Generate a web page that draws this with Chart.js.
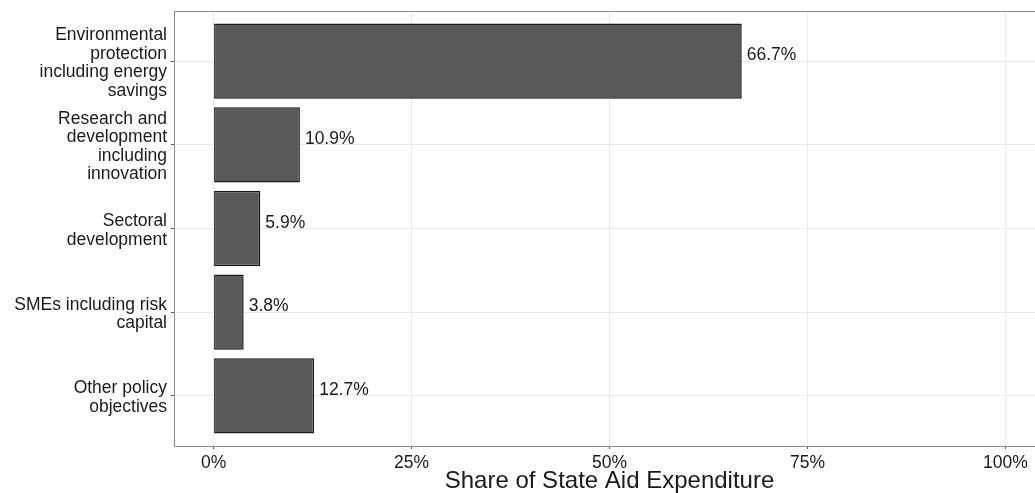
<!DOCTYPE html>
<html>
<head>
<meta charset="utf-8">
<script src="https://cdn.jsdelivr.net/npm/chart.js@4.4.1/dist/chart.umd.min.js"></script>
<style>
  html, body { margin: 0; padding: 0; background: #fff; overflow: hidden; }
  #wrap { width: 1035px; height: 493px; overflow: hidden; position: relative; }
  #box { width: 1050px; height: 493px; position: absolute; left: 0; top: 0; }
</style>
</head>
<body>
<div id="wrap"><div id="box"><canvas id="aidChart"></canvas></div></div>
<script>
// categories (top to bottom), one array of lines per label
const categories = [
  ['Environmental', 'protection', 'including energy', 'savings'],
  ['Research and', 'development', 'including', 'innovation'],
  ['Sectoral', 'development'],
  ['SMEs including risk', 'capital'],
  ['Other policy', 'objectives']
];
const shares = [66.7, 10.9, 5.9, 3.8, 12.7];
const xTicks = [0, 25, 50, 75, 100];
const xTitle = 'Share of State Aid Expenditure';

const FONT = '"Liberation Sans", Arial, Helvetica, sans-serif';
const TEXT = '#1a1a1a';
const SIZE = 17.5;

// value labels at the end of each bar
const valueLabels = {
  id: 'valueLabels',
  afterDatasetsDraw(chart) {
    const ctx = chart.ctx;
    const meta = chart.getDatasetMeta(0);
    ctx.save();
    ctx.font = SIZE + 'px ' + FONT;
    ctx.fillStyle = TEXT;
    ctx.textAlign = 'left';
    ctx.textBaseline = 'alphabetic';
    meta.data.forEach((bar, i) => {
      const x = chart.scales.x.getPixelForValue(shares[i]);
      ctx.fillText(shares[i].toFixed(1) + '%', x + 5, bar.y - 1);
    });
    ctx.restore();
  }
};

// top panel border (left and bottom come from the axes)
const panelBorder = {
  id: 'panelBorder',
  afterDraw(chart) {
    const a = chart.chartArea;
    const ctx = chart.ctx;
    ctx.save();
    ctx.strokeStyle = '#8a8a8a';
    ctx.lineWidth = 1;
    ctx.beginPath();
    ctx.moveTo(a.left, a.top + 0.5);
    ctx.lineTo(a.right, a.top + 0.5);
    ctx.stroke();
    ctx.restore();
  }
};

new Chart(document.getElementById('aidChart'), {
  type: 'bar',
  data: {
    datasets: [{
      data: shares.map((v, i) => ({ x: v, y: i + 1 })),
      backgroundColor: '#595959',
      borderColor: '#1a1a1a',
      borderWidth: 1.5,
      borderSkipped: false,
      barPercentage: 0.9,
      categoryPercentage: 1
    }]
  },
  options: {
    indexAxis: 'y',
    responsive: true,
    maintainAspectRatio: false,
    animation: false,
    layout: { padding: { top: 11, right: 5, left: 0, bottom: 0 } },
    plugins: {
      legend: { display: false },
      tooltip: { enabled: false }
    },
    scales: {
      x: {
        type: 'linear',
        min: -5,
        max: 105,
        afterBuildTicks: (scale) => { scale.ticks = xTicks.map(v => ({ value: v })); },
        afterFit: (scale) => { scale.height = 47; scale.paddingLeft = 0; scale.paddingRight = 0; },
        grid: { color: '#ebebeb', lineWidth: 1, tickLength: 3, tickColor: '#555' },
        border: { color: '#8a8a8a', width: 1 },
        ticks: {
          color: TEXT,
          font: { family: FONT, size: SIZE, lineHeight: 1 },
          padding: 5,
          maxRotation: 0,
          callback: (v) => v + '%'
        },
        title: {
          display: true,
          text: xTitle,
          color: TEXT,
          font: { family: FONT, size: 24, lineHeight: 1 },
          padding: { top: 0, bottom: 0 }
        }
      },
      y: {
        type: 'linear',
        reverse: true,
        offset: false,
        min: 0.4,
        max: 5.6,
        afterBuildTicks: (scale) => { scale.ticks = categories.map((c, i) => ({ value: i + 1 })); },
        afterFit: (scale) => { scale.width = 174; scale.paddingTop = 0; scale.paddingBottom = 0; },
        grid: { offset: false, color: '#ebebeb', lineWidth: 1, tickLength: 3, tickColor: '#555' },
        border: { color: '#8a8a8a', width: 1 },
        ticks: {
          color: TEXT,
          font: { family: FONT, size: SIZE, lineHeight: 1.06 },
          padding: 4,
          labelOffset: 2,
          autoSkip: false,
          callback: (v) => categories[v - 1]
        }
      }
    }
  },
  plugins: [valueLabels, panelBorder]
});
</script>
</body>
</html>
